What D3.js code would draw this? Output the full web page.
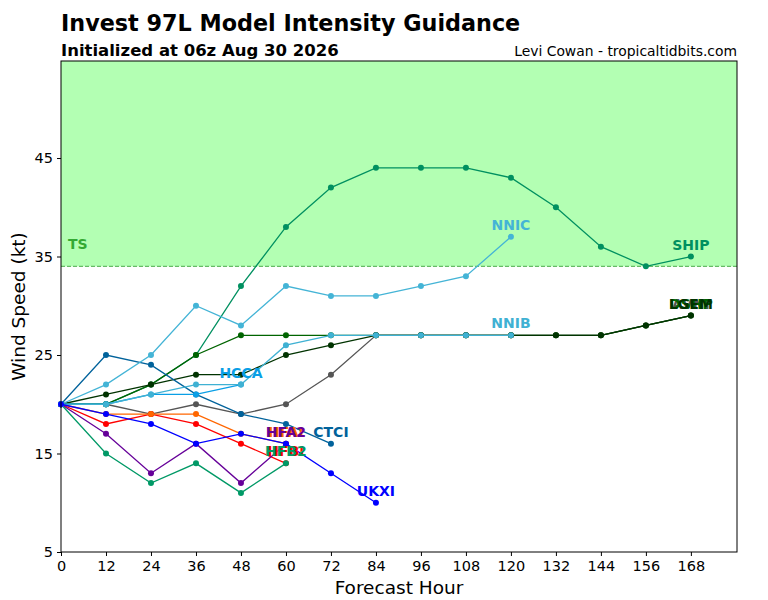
<!DOCTYPE html>
<meta charset="utf-8">
<title>Invest 97L Model Intensity Guidance</title>
<script src="https://d3js.org/d3.v7.min.js"></script>
<style>
  body { margin: 0; background: #fff; }
  svg text { font-family: "DejaVu Sans", sans-serif; }
</style>
<body>
<div id="chart"></div>
<script>

  // forecast hours and intensity (kt) per model
  var hours = [0, 12, 24, 36, 48, 60, 72, 84, 96, 108, 120, 132, 144, 156, 168];
  var xTicks = [0, 12, 24, 36, 48, 60, 72, 84, 96, 108, 120, 132, 144, 156, 168];
  var yTicks = [5, 15, 25, 35, 45];

  var modelNames  = ["AVNI", "SHIP", "DSHP", "LGEM", "HFBI", "HFAI", "HFA2", "HFB2", "CTCI", "HCCA", "NNIB", "NNIC", "UKXI"];
  var modelColors = ["#555555", "#009060", "#006400", "#003300", "#ff0000", "#ff6600", "#660099", "#009966", "#00629b", "#0a9fe6", "#3fb1d3", "#44b4d6", "#0000ff"];

  var avni = [20, 20, 19, 20, 19, 20, 23, 27, 27, 27, 27, 27, 27, 28, 29];
  var ship = [20, 20, 22, 25, 32, 38, 42, 44, 44, 44, 43, 40, 36, 34, 35];
  var dshp = [20, 20, 22, 25, 27, 27, 27, 27, 27, 27, 27, 27, 27, 28, 29];
  var lgem = [20, 21, 22, 23, 23, 25, 26, 27, 27, 27, 27, 27, 27, 28, 29];
  var hfbi = [20, 18, 19, 18, 16, 14];
  var hfai = [20, 19, 19, 19, 17, 16];
  var hfa2 = [20, 17, 13, 16, 12, 16];
  var hfb2 = [20, 15, 12, 14, 11, 14];
  var ctci = [20, 25, 24, 21, 19, 18, 16];
  var hcca = [20, 20, 21, 21, 22];
  var nnib = [20, 20, 21, 22, 22, 26, 27, 27, 27, 27, 27];
  var nnic = [20, 22, 25, 30, 28, 32, 31, 31, 32, 33, 37];
  var ukxi = [20, 19, 18, 16, 17, 16, 13, 10];

  var modelValues = [avni, ship, dshp, lgem, hfbi, hfai, hfa2, hfb2, ctci, hcca, nnib, nnic, ukxi];

  var tsThreshold = 34;

  var width = 768, height = 600;
  var margin = { top: 61, right: 31, bottom: 48, left: 61 };

  var svg = d3.select("#chart").append("svg")
    .attr("width", width)
    .attr("height", height);

  var x = d3.scaleLinear()
    .domain([0, 180.3])
    .range([margin.left, width - margin.right]);

  var y = d3.scaleLinear()
    .domain([5, 54.85])
    .range([height - margin.bottom, margin.top]);

  // tropical storm band
  svg.append("rect")
    .attr("x", x(0))
    .attr("y", y.range()[1])
    .attr("width", x.range()[1] - x(0))
    .attr("height", y(tsThreshold) - y.range()[1])
    .attr("fill", "#b3ffb3");

  svg.append("line")
    .attr("x1", x(0)).attr("x2", x.range()[1])
    .attr("y1", y(tsThreshold)).attr("y2", y(tsThreshold))
    .attr("stroke", "#66bb66")
    .attr("stroke-width", 1.2)
    .attr("stroke-dasharray", "4,2");

  svg.append("text")
    .attr("x", x(0) + 7)
    .attr("y", y(tsThreshold) - 17)
    .attr("fill", "#33aa33")
    .attr("font-weight", "bold")
    .attr("font-size", "14px")
    .text("TS");

  var line = d3.line()
    .x(function (d) { return x(d.h); })
    .y(function (d) { return y(d.v); });

  var series = modelNames.map(function (name, i) {
    return {
      name: name,
      color: modelColors[i],
      points: modelValues[i].map(function (v, j) { return { h: hours[j], v: v }; })
    };
  });

  var g = svg.selectAll(".model")
    .data(series)
    .enter().append("g")
    .attr("class", "model");

  g.append("path")
    .attr("d", function (d) { return line(d.points); })
    .attr("fill", "none")
    .attr("stroke", function (d) { return d.color; })
    .attr("stroke-width", 1.3);

  g.selectAll("circle")
    .data(function (d) { return d.points.map(function (p) { return { h: p.h, v: p.v, color: d.color }; }); })
    .enter().append("circle")
    .attr("cx", function (d) { return x(d.h); })
    .attr("cy", function (d) { return y(d.v); })
    .attr("r", 3)
    .attr("fill", function (d) { return d.color; });

  // model labels at the end of each track (they pile up where tracks end together)
  svg.selectAll(".label")
    .data(series)
    .enter().append("text")
    .attr("class", "label")
    .attr("x", function (d) { return x(d.points[d.points.length - 1].h); })
    .attr("y", function (d) { return y(d.points[d.points.length - 1].v) - 7; })
    .attr("text-anchor", "middle")
    .attr("font-weight", "bold")
    .attr("font-size", "14px")
    .attr("fill", function (d) { return d.color; })
    .text(function (d) { return d.name; });

  // axes
  svg.append("g")
    .attr("transform", "translate(0," + y.range()[0] + ")")
    .call(d3.axisBottom(x).tickValues(xTicks).tickSize(4).tickPadding(5))
    .call(function (a) { a.select(".domain").remove(); })
    .selectAll("text").attr("font-size", "14.5px").attr("fill", "#000");

  svg.append("g")
    .attr("transform", "translate(" + x(0) + ",0)")
    .call(d3.axisLeft(y).tickValues(yTicks).tickSize(4).tickPadding(4))
    .call(function (a) { a.select(".domain").remove(); })
    .selectAll("text").attr("font-size", "14.5px").attr("fill", "#000");

  svg.selectAll(".tick line").attr("stroke", "#000");

  // frame
  svg.append("rect")
    .attr("x", x(0))
    .attr("y", y.range()[1])
    .attr("width", x.range()[1] - x(0))
    .attr("height", y.range()[0] - y.range()[1])
    .attr("fill", "none")
    .attr("stroke", "#000")
    .attr("stroke-width", 1);

  // titles
  svg.append("text")
    .attr("x", 61).attr("y", 31)
    .attr("font-size", "22.3px").attr("font-weight", "bold")
    .text("Invest 97L Model Intensity Guidance");

  svg.append("text")
    .attr("x", 61).attr("y", 56)
    .attr("font-size", "16.5px").attr("font-weight", "bold")
    .text("Initialized at 06z Aug 30 2026");

  svg.append("text")
    .attr("x", 737).attr("y", 56)
    .attr("text-anchor", "end")
    .attr("font-size", "13.9px")
    .text("Levi Cowan - tropicaltidbits.com");

  svg.append("text")
    .attr("x", (x(0) + x.range()[1]) / 2).attr("y", 594)
    .attr("text-anchor", "middle")
    .attr("font-size", "18.5px")
    .text("Forecast Hour");

  svg.append("text")
    .attr("transform", "translate(25," + ((y.range()[0] + y.range()[1]) / 2) + ") rotate(-90)")
    .attr("text-anchor", "middle")
    .attr("font-size", "18.5px")
    .text("Wind Speed (kt)");

</script>
</body>
